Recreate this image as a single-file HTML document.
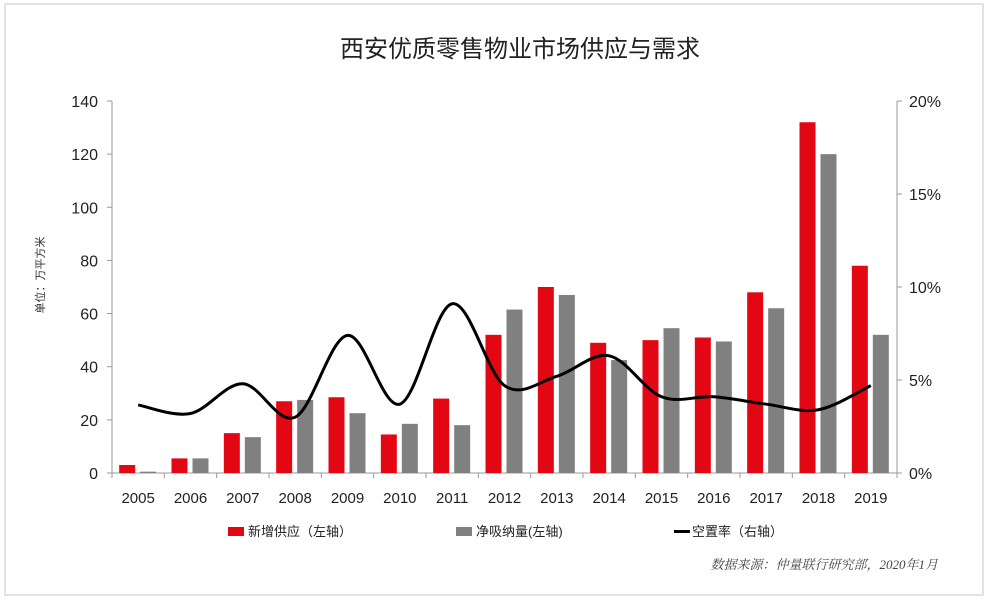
<!DOCTYPE html>
<html><head><meta charset="utf-8"><style>
body{margin:0;background:#fff;width:990px;height:603px;overflow:hidden;font-family:"Liberation Sans","Noto Sans CJK SC",sans-serif;}
</style></head><body>
<svg width="990" height="603" viewBox="0 0 990 603">
<rect x="5" y="4" width="978" height="591" fill="#fff" stroke="#d8d8d8" stroke-width="1.5"/>
<text x="520" y="57" font-size="24" text-anchor="middle" fill="#222">西安优质零售物业市场供应与需求</text>
<g id="axes"></g><g id="bars"></g><path id="line" fill="none" stroke="#000" stroke-width="3"/>
<text transform="translate(44,275) rotate(-90)" font-size="11" text-anchor="middle" fill="#333">单位：万平方米</text>
<g>
<rect x="228" y="527" width="16" height="9" fill="#e30613"/>
<text x="248" y="536" font-size="13" fill="#222">新增供应（左轴）</text>
<rect x="456" y="527" width="16" height="9" fill="#808080"/>
<text x="476" y="536" font-size="13" fill="#222">净吸纳量(左轴)</text>
<rect x="674" y="530" width="16" height="3" fill="#000"/>
<text x="692" y="536" font-size="13" fill="#222">空置率（右轴）</text>
</g>
<text x="938" y="569" font-size="13" font-style="italic" text-anchor="end" fill="#444" font-family="Liberation Serif,Noto Serif CJK SC,serif">数据来源：仲量联行研究部，2020年1月</text>
</svg>
<script>
const years=["2005","2006","2007","2008","2009","2010","2011","2012","2013","2014","2015","2016","2017","2018","2019"];
const supply=[3,5.5,15,27,28.5,14.5,28,52,70,49,50,51,68,132,78];
const absorption=[0.5,5.5,13.5,27.5,22.5,18.5,18,61.5,67,42.5,54.5,49.5,62,120,52];
const vacancy=[3.66,3.2,4.8,3.0,7.4,3.7,9.1,4.7,5.2,6.3,4.1,4.1,3.7,3.4,4.7];
const leftTicks=[0,20,40,60,80,100,120,140];
const rightTicks=["0%","5%","10%","15%","20%"];
const NS="http://www.w3.org/2000/svg";
const X0=112,X1=897,Y0=473,Y1=101;
const step=(X1-X0)/years.length;
const xc=i=>X0+step*(i+0.5);
const yl=v=>Y0-(v/140)*(Y0-Y1);
const yr=v=>Y0-(v/20)*(Y0-Y1);
function mk(tag,at,parent){const e=document.createElementNS(NS,tag);for(const k in at)e.setAttribute(k,at[k]);parent.appendChild(e);return e;}
const axes=document.getElementById('axes'),bars=document.getElementById('bars');
let a=mk('line',{x1:X0,y1:Y1,x2:X0,y2:Y0,stroke:'#999'},axes);


a=mk('line',{x1:X1,y1:Y1,x2:X1,y2:Y0,stroke:'#999'},axes);


a=mk('line',{x1:X0,y1:Y0,x2:X1,y2:Y0,stroke:'#999'},axes);


leftTicks.forEach(v=>{const y=yl(v);mk('line',{x1:X0-5,y1:y,x2:X0,y2:y,stroke:'#999'},axes);
const t=mk('text',{x:X0-14,y:y+6,'font-size':16,'text-anchor':'end',fill:'#222'},axes);t.textContent=v;

});
rightTicks.forEach((s,i)=>{const y=yr(i*5);mk('line',{x1:X1,y1:y,x2:X1+5,y2:y,stroke:'#999'},axes);
const t=mk('text',{x:X1+12,y:y+6,'font-size':16,fill:'#222'},axes);t.textContent=s;

});
for(let i=0;i<=years.length;i++){const x=X0+step*i;mk('line',{x1:x,y1:Y0,x2:x,y2:Y0+5,stroke:'#999'},axes);}
years.forEach((yv,i)=>{const t=mk('text',{x:xc(i),y:503,'font-size':15,'text-anchor':'middle',fill:'#222'},axes);t.textContent=yv;


let r=mk('rect',{x:xc(i)-19,y:yl(supply[i]),width:16,height:Y0-yl(supply[i]),fill:'#e30613'},bars);


r=mk('rect',{x:xc(i)+2,y:yl(absorption[i]),width:16,height:Y0-yl(absorption[i]),fill:'#808080'},bars);

});
const pts=vacancy.map((v,i)=>[xc(i),yr(v)]);
let d='M'+pts[0][0]+','+pts[0][1];
for(let i=0;i<pts.length-1;i++){const p0=pts[Math.max(0,i-1)],p1=pts[i],p2=pts[i+1],p3=pts[Math.min(pts.length-1,i+2)];
const c1=[p1[0]+(p2[0]-p0[0])/6,p1[1]+(p2[1]-p0[1])/6],c2=[p2[0]-(p3[0]-p1[0])/6,p2[1]-(p3[1]-p1[1])/6];
d+=` C${c1[0]},${c1[1]} ${c2[0]},${c2[1]} ${p2[0]},${p2[1]}`;}
document.getElementById('line').setAttribute('d',d);
</script>
</body></html>
